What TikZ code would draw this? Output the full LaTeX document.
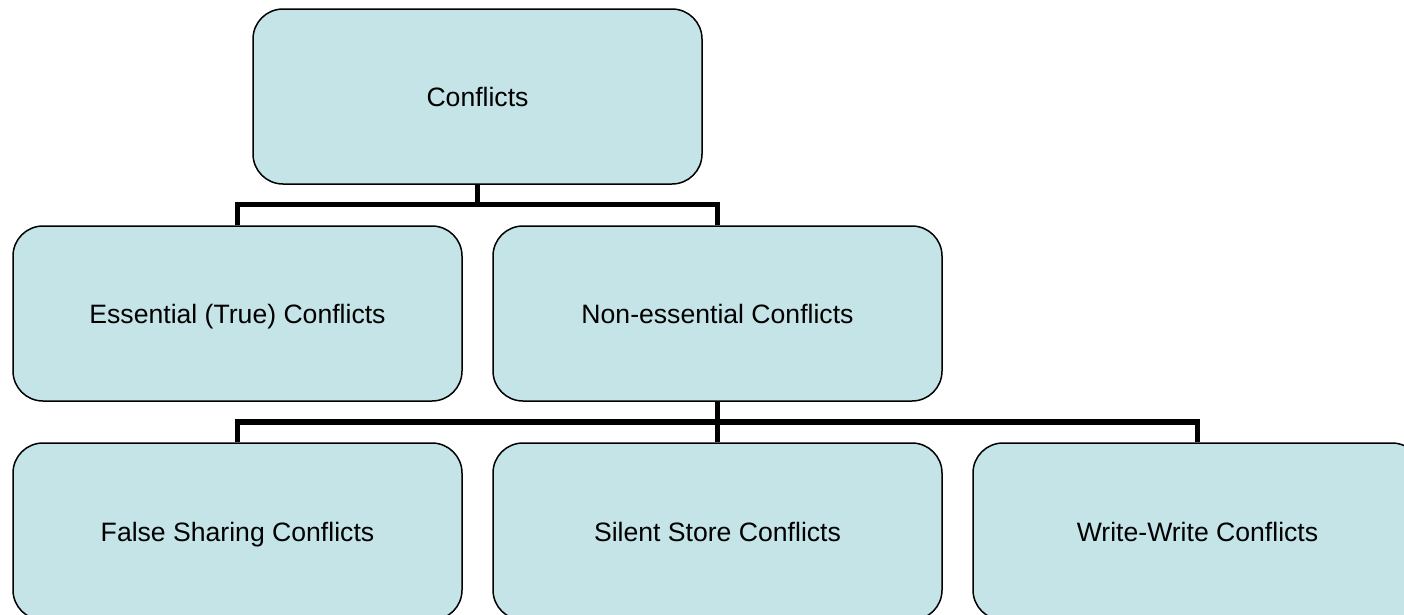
\documentclass[tikz,border=0pt]{standalone}
\usepackage{fontspec}
\setmainfont{Liberation Sans}
\definecolor{boxfill}{RGB}{196,228,231}
\begin{document}
\begin{tikzpicture}[x=1pt,y=-1pt,
  catbox/.style={draw=black, line width=1.5pt, fill=boxfill, rounded corners=30pt,
    minimum width=449pt, minimum height=175pt, inner sep=0pt,
    text height=19pt, text depth=0pt,
    font=\fontsize{26.6pt}{32pt}\selectfont},
  link/.style={draw=black, line width=5.7pt}]
\useasboundingbox (0,0) rectangle (1404,614);
\begin{scope}
\clip (0,0) rectangle (1404,614);
% top level
\node[catbox] (root) at (477.5,96.5) {Conflicts};
% second level
\node[catbox] (ess) at (237.5,313.5) {Essential (True) Conflicts};
\node[catbox] (non) at (717.5,313.5) {Non-essential Conflicts};
% third level
\node[catbox, minimum height=177pt] (fs) at (237.5,531.5) {False Sharing Conflicts};
\node[catbox, minimum height=177pt] (ss) at (717.5,531.5) {Silent Store Conflicts};
\node[catbox, minimum height=177pt] (ww) at (1197.5,531.5) {Write-Write Conflicts};
% connectors
\coordinate (j1) at (477.5,204.5);
\coordinate (j2) at (717.5,422);
\draw[link] (root.south) -- (j1);
\draw[link] (ess.north) |- (j1) -| (non.north);
\draw[link] (non.south) -- (j2);
\draw[link] (fs.north) |- (j2) -| (ww.north);
\draw[link] (j2) -- (ss.north);
\end{scope}
\end{tikzpicture}
\end{document}
